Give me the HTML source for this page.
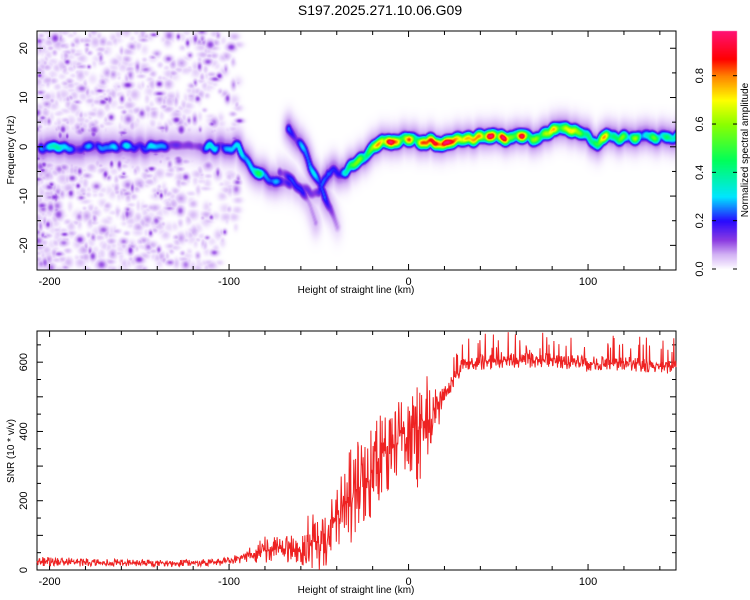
<!DOCTYPE html>
<html><head><meta charset="utf-8">
<style>
body{margin:0;background:#fff;width:750px;height:600px;overflow:hidden;font-family:"Liberation Sans",sans-serif}
#wrap{position:relative;width:750px;height:600px}
canvas,svg{position:absolute;left:0;top:0}
</style></head>
<body><div id="wrap">
<canvas id="hm" width="750" height="600"></canvas>
<svg id="sv" width="750" height="600"></svg>
</div>
<script>
// ---- data ----
const xTicks=[-200,-100,0,100];
const fTicks=[-20,-10,0,10,20];
const snrTicks=[0,200,400,600];
const cbTicks=[0.0,0.2,0.4,0.6,0.8];
// main ridge: height(km), frequency(Hz), amplitude
const ridgeX=[-205,-195,-185,-175,-165,-155,-145,-135,-120,-110,-100,-95,-90,-85,-80,-75,-70,-65,-60,-55,-50,-45,-40,-35,-30,-25,-20,-15,-10,-5,0,5,10,20,30,40,50,60,70,75,80,90,95,100,105,110,115,130,149];
const ridgeF=[0,0,0,0,0,0,0,0,0,0,0,0,-3,-5,-6,-7,-7,-7,-8,-9,-9,-5,-5,-5,-3,-2,0,1,1,1.5,2,1.5,1,1,1.5,2,2,2,2,2.5,3.5,3.5,2.5,2,1,2,2,2,2];
const ridgeA=[0.33,0.33,0.3,0.33,0.26,0.32,0.3,0.22,0.2,0.3,0.33,0.33,0.4,0.4,0.45,0.35,0.2,0.15,0.15,0.15,0.2,0.42,0.4,0.4,0.55,0.6,0.75,0.9,0.9,0.7,0.8,0.7,0.9,0.9,0.6,0.9,0.95,0.95,0.6,0.9,0.7,0.8,0.7,0.8,0.7,0.9,0.6,0.5,0.5];
// branches
const br1X=[-72,-65,-60,-55,-52];
const br1F=[-5,-7,-9,-12,-15];
const br1A=[0.15,0.2,0.18,0.15,0.15];
const br2X=[-67,-63,-58,-55,-50,-47,-44,-40];
const br2F=[4,2,-1,-4,-7,-10,-12,-16];
const br2A=[0.45,0.3,0.3,0.35,0.25,0.3,0.2,0.08];
// SNR trend & spread
const snrX=[-205,-180,-150,-120,-100,-90,-80,-70,-60,-55,-50,-45,-40,-35,-30,-25,-20,-15,-10,-5,0,5,10,15,20,25,30,40,60,80,100,120,149];
const snrMean=[25,22,20,20,25,40,60,60,55,90,70,90,150,190,230,260,290,330,360,380,390,400,420,450,500,555,590,600,605,605,595,595,585];
const snrSpread=[22,18,15,15,18,30,60,60,70,130,120,130,180,210,210,210,210,190,190,190,160,260,230,120,50,40,35,35,35,35,35,35,30];

// ---- axes ----
const X0=37,X1=676,XMIN=-207,XMAX=149;
const sx=v=>X0+(v-XMIN)/(XMAX-XMIN)*(X1-X0);
const T0=31,T1=270,FMIN=-25,FMAX=23.5;
const sf=v=>T1-(v-FMIN)/(FMAX-FMIN)*(T1-T0);
const B0=331,B1=570,SMAX=690;
const ss=v=>B1-v/SMAX*(B1-B0);
function interp(xs,ys,x){if(x<=xs[0])return ys[0];for(let i=1;i<xs.length;i++){if(x<=xs[i]){const t=(x-xs[i-1])/(xs[i]-xs[i-1]);return ys[i-1]+t*(ys[i]-ys[i-1]);}}return ys[ys.length-1];}
function h(n){let s=Math.sin(n*127.1+311.7)*43758.5453;return s-Math.floor(s);}
function sm(x){const i=Math.floor(x),t=x-i,u=t*t*(3-2*t);return h(i)*(1-u)+h(i+1)*u;}

// ---- heatmap ----
const W=X1-X0,H=T1-T0;
const field=new Float32Array(W*H);
function addBlob(cx,cy,a,rx,ry){
  const x0=Math.max(0,Math.floor(cx-3*rx)),x1=Math.min(W-1,Math.ceil(cx+3*rx));
  const y0=Math.max(0,Math.floor(cy-3*ry)),y1=Math.min(H-1,Math.ceil(cy+3*ry));
  for(let y=y0;y<=y1;y++)for(let x=x0;x<=x1;x++){
    const d=((x-cx)/rx)**2+((y-cy)/ry)**2;const v=a*Math.exp(-d/2);
    const k=y*W+x;if(v>field[k])field[k]=v;}
}
function ridge(xs,fs,as,step,seed){
  for(let x=xs[0];x<=xs[xs.length-1];x+=step){
    const f=interp(xs,fs,x),a=interp(xs,as,x);
    const mod=0.5+0.7*sm(x/3.5+seed);
    const jf=(sm(x/3+seed+50)-0.5)*1.0;
    addBlob(sx(x)-X0,sf(f+jf)-T0,Math.min(1,a*mod),2.5,4.2);
    addBlob(sx(x)-X0,sf(f+jf)-T0,Math.min(0.11,a*0.35),4,10);
  }
}
// background speckle (texture)
for(let i=0;i<1300;i++){
  const u=h(i),v=h(i+5000),w=h(i+9000);
  const x=XMIN+Math.pow(u,1.3)*(-100-XMIN)+(u>0.93?(u-0.93)*80:0);
  const f=FMIN+v*(FMAX-FMIN);
  const big=h(i+777);
  addBlob(sx(x)-X0,sf(f)-T0,0.025+0.1*big*big*(w>0.5?1:0.4),1.5+2.2*h(i+3),1.5+2.2*h(i+4));
}
ridge(ridgeX,ridgeF,ridgeA,0.5,0);
ridge(br1X,br1F,br1A,0.5,100);
ridge(br2X,br2F,br2A,0.5,200);
const stops=[[0,[255,255,255]],[0.02,[240,228,253]],[0.06,[212,180,245]],[0.12,[140,60,225]],[0.2,[40,10,255]],[0.3,[0,230,255]],[0.45,[0,255,90]],[0.6,[140,255,0]],[0.7,[255,255,0]],[0.8,[255,130,0]],[0.87,[255,0,0]],[1,[255,20,130]]];
function cmap(v){for(let i=1;i<stops.length;i++){if(v<=stops[i][0]){const t=(v-stops[i-1][0])/(stops[i][0]-stops[i-1][0]);return stops[i-1][1].map((c,j)=>Math.round(c+t*(stops[i][1][j]-c)));}}return stops[stops.length-1][1];}
const cv=document.getElementById('hm'),ctx=cv.getContext('2d');
const img=ctx.createImageData(W,H);
for(let k=0;k<W*H;k++){const c=cmap(field[k]);img.data[k*4]=c[0];img.data[k*4+1]=c[1];img.data[k*4+2]=c[2];img.data[k*4+3]=255;}
ctx.putImageData(img,X0,T0);
// colorbar
for(let y=31;y<=269;y++){const c=cmap((269-y)/(269-31)*0.985);ctx.fillStyle=`rgb(${c})`;ctx.fillRect(712,y,25,1);}

// ---- svg ----
const NS='http://www.w3.org/2000/svg',sv=document.getElementById('sv');
function el(t,a,p){const e=document.createElementNS(NS,t);for(const k in a)e.setAttribute(k,a[k]);(p||sv).appendChild(e);return e;}
function txt(s,x,y,a){const e=el('text',Object.assign({x:x,y:y,'font-size':11,'font-family':'Liberation Sans, sans-serif',fill:'#000'},a||{}));e.textContent=s;return e;}
const title=txt('S197.2025.271.10.06.G09',380,15,{'text-anchor':'middle','font-size':14});



function frame(top,bot,name){
  const r=el('rect',{x:X0,y:top,width:X1-X0,height:bot-top,fill:'none',stroke:'#000','stroke-width':1});
  
  
  for(let v=-200;v<=140;v+=20){const x=sx(v),big=v%100===0;
    el('line',{x1:x,x2:x,y1:bot,y2:bot-(big?6:4),stroke:'#000'});
    el('line',{x1:x,x2:x,y1:top,y2:top+(big?6:4),stroke:'#000'});}
  xTicks.forEach(v=>{const t=txt(String(v),sx(v),bot+15,{'text-anchor':'middle','font-size':11});
    
    });
  const xl=txt('Height of straight line (km)',356,bot+23,{'text-anchor':'middle','font-size':10});
  
  
}
frame(T0,T1,'spectrogram');
frame(B0,B1,'snr');
for(let v=-25;v<=20;v+=5){const y=sf(v),big=v%10===0;
  el('line',{x1:X0,x2:X0+(big?6:4),y1:y,y2:y,stroke:'#000'});
  el('line',{x1:X1,x2:X1-(big?6:4),y1:y,y2:y,stroke:'#000'});}
fTicks.forEach(v=>{const t=txt(String(v),27,sf(v),{'text-anchor':'middle','font-size':11,transform:`rotate(-90 27 ${sf(v)})`});
  
  });
const fy=txt('Frequency (Hz)',14,150,{'text-anchor':'middle','font-size':10,transform:'rotate(-90 14 150)'});


for(let v=0;v<=650;v+=50){const y=ss(v),big=v%100===0;
  el('line',{x1:X0,x2:X0+(big?6:4),y1:y,y2:y,stroke:'#000'});
  el('line',{x1:X1,x2:X1-(big?6:4),y1:y,y2:y,stroke:'#000'});}
snrTicks.forEach(v=>{const t=txt(String(v),27,ss(v),{'text-anchor':'middle','font-size':11,transform:`rotate(-90 27 ${ss(v)})`});
  
  });
const sy=txt('SNR (10 * v/v)',14,451,{'text-anchor':'middle','font-size':10,transform:'rotate(-90 14 451)'});



// SNR line
let pts=[];
for(let i=0;;i++){const x=XMIN+i*0.25;if(x>XMAX)break;
  const m=interp(snrX,snrMean,x),s=interp(snrX,snrSpread,x);
  let r=h(i+20000)-0.5;
  let v=m+(r*Math.abs(r)*1.6+r*0.5)*s;
  if(x>25&&h(i+30000)>0.92)v+=40+45*h(i+40000);
  v=Math.max(0,Math.min(SMAX,v));
  pts.push(sx(x).toFixed(1)+','+ss(v).toFixed(1));}
const ln=el('polyline',{points:pts.join(' '),fill:'none',stroke:'#ee2222','stroke-width':1});



// colorbar axis
const cbr=el('rect',{x:712,y:31,width:25,height:238,fill:'none',stroke:'none'});


cbTicks.forEach(v=>{const y=269-v/0.985*238;
  el('line',{x1:712,x2:716,y1:y,y2:y,stroke:'#000'});el('line',{x1:733,x2:737,y1:y,y2:y,stroke:'#000'});
  const t=txt(v.toFixed(1),703,y,{'text-anchor':'middle','font-size':11,transform:`rotate(-90 703 ${y})`});
  
  });
const cl=txt('Normalized spectral amplitude',748,150,{'text-anchor':'middle','font-size':10,transform:'rotate(-90 748 150)'});


</script></body></html>
